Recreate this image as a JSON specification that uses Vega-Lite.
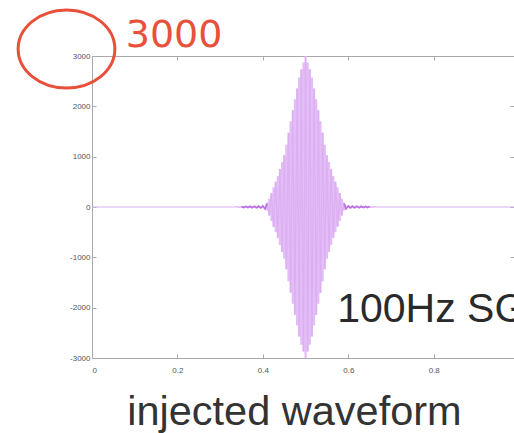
{
  "$schema": "https://vega.github.io/schema/vega-lite/v6.json",
  "width": 422,
  "height": 302,
  "autosize": "none",
  "padding": {"left": 92, "top": 56, "right": 0, "bottom": 75},
  "background": "white",
  "view": {"stroke": null},
  "config": {
    "axis": {
      "domainColor": "#a9a9a9",
      "tickColor": "#a9a9a9",
      "labelColor": "#555555",
      "labelFont": "Liberation Sans",
      "labelFontSize": 8,
      "grid": false,
      "tickSize": -4,
      "title": null
    }
  },
  "datasets": {
    "wave": [
      {"t": 0, "v": 0}, {"t": 0.335, "v": 0},
      {"t": 0.34, "v": 6}, {"t": 0.345, "v": -7}, {"t": 0.35, "v": 8}, {"t": 0.355, "v": -9},
      {"t": 0.36, "v": 10}, {"t": 0.365, "v": -11}, {"t": 0.37, "v": 12}, {"t": 0.375, "v": -13},
      {"t": 0.38, "v": 14}, {"t": 0.385, "v": -15}, {"t": 0.39, "v": 16}, {"t": 0.395, "v": -18},
      {"t": 0.4, "v": 20}, {"t": 0.405, "v": -35}, {"t": 0.41, "v": 70}, {"t": 0.415, "v": -170},
      {"t": 0.42, "v": 278}, {"t": 0.425, "v": -390}, {"t": 0.43, "v": 503}, {"t": 0.435, "v": -618},
      {"t": 0.44, "v": 755}, {"t": 0.445, "v": -892}, {"t": 0.45, "v": 1029}, {"t": 0.455, "v": -1236},
      {"t": 0.46, "v": 1475}, {"t": 0.465, "v": -1704}, {"t": 0.47, "v": 1921}, {"t": 0.475, "v": -2139},
      {"t": 0.48, "v": 2355}, {"t": 0.485, "v": -2571}, {"t": 0.49, "v": 2738}, {"t": 0.495, "v": -2869},
      {"t": 0.5, "v": 3000},
      {"t": 0.505, "v": -2869}, {"t": 0.51, "v": 2738}, {"t": 0.515, "v": -2571}, {"t": 0.52, "v": 2355},
      {"t": 0.525, "v": -2139}, {"t": 0.53, "v": 1921}, {"t": 0.535, "v": -1704}, {"t": 0.54, "v": 1475},
      {"t": 0.545, "v": -1236}, {"t": 0.55, "v": 1029}, {"t": 0.555, "v": -892}, {"t": 0.56, "v": 755},
      {"t": 0.565, "v": -618}, {"t": 0.57, "v": 503}, {"t": 0.575, "v": -390}, {"t": 0.58, "v": 278},
      {"t": 0.585, "v": -170}, {"t": 0.59, "v": 70}, {"t": 0.595, "v": -35}, {"t": 0.6, "v": 20},
      {"t": 0.605, "v": -18}, {"t": 0.61, "v": 16}, {"t": 0.615, "v": -15}, {"t": 0.62, "v": 14},
      {"t": 0.625, "v": -13}, {"t": 0.63, "v": 12}, {"t": 0.635, "v": -11}, {"t": 0.64, "v": 10},
      {"t": 0.645, "v": -9}, {"t": 0.65, "v": 8}, {"t": 0.655, "v": -7}, {"t": 0.66, "v": 6},
      {"t": 0.665, "v": 0}, {"t": 1, "v": 0}
    ],
    "envelope": [
      {"t": 0.405, "hi": 35, "lo": -35}, {"t": 0.41, "hi": 70, "lo": -70}, {"t": 0.415, "hi": 170, "lo": -170},
      {"t": 0.42, "hi": 278, "lo": -278}, {"t": 0.425, "hi": 390, "lo": -390}, {"t": 0.43, "hi": 503, "lo": -503},
      {"t": 0.435, "hi": 618, "lo": -618}, {"t": 0.44, "hi": 755, "lo": -755}, {"t": 0.445, "hi": 892, "lo": -892},
      {"t": 0.45, "hi": 1029, "lo": -1029}, {"t": 0.455, "hi": 1236, "lo": -1236}, {"t": 0.46, "hi": 1475, "lo": -1475},
      {"t": 0.465, "hi": 1704, "lo": -1704}, {"t": 0.47, "hi": 1921, "lo": -1921}, {"t": 0.475, "hi": 2139, "lo": -2139},
      {"t": 0.48, "hi": 2355, "lo": -2355}, {"t": 0.485, "hi": 2571, "lo": -2571}, {"t": 0.49, "hi": 2738, "lo": -2738},
      {"t": 0.495, "hi": 2869, "lo": -2869}, {"t": 0.5, "hi": 3000, "lo": -3000}, {"t": 0.505, "hi": 2869, "lo": -2869},
      {"t": 0.51, "hi": 2738, "lo": -2738}, {"t": 0.515, "hi": 2571, "lo": -2571}, {"t": 0.52, "hi": 2355, "lo": -2355},
      {"t": 0.525, "hi": 2139, "lo": -2139}, {"t": 0.53, "hi": 1921, "lo": -1921}, {"t": 0.535, "hi": 1704, "lo": -1704},
      {"t": 0.54, "hi": 1475, "lo": -1475}, {"t": 0.545, "hi": 1236, "lo": -1236}, {"t": 0.55, "hi": 1029, "lo": -1029},
      {"t": 0.555, "hi": 892, "lo": -892}, {"t": 0.56, "hi": 755, "lo": -755}, {"t": 0.565, "hi": 618, "lo": -618},
      {"t": 0.57, "hi": 503, "lo": -503}, {"t": 0.575, "hi": 390, "lo": -390}, {"t": 0.58, "hi": 278, "lo": -278},
      {"t": 0.585, "hi": 170, "lo": -170}, {"t": 0.59, "hi": 70, "lo": -70}, {"t": 0.595, "hi": 35, "lo": -35}
    ]
  },
  "resolve": {"axis": {"x": "independent", "y": "independent"}},
  "layer": [
    {
      "data": {"name": "envelope"},
      "mark": {"type": "area", "color": "#e3bdf5", "opacity": 1, "interpolate": "step", "clip": true},
      "encoding": {
        "x": {
          "field": "t", "type": "quantitative",
          "scale": {"domain": [0, 0.988], "nice": false, "zero": false},
          "axis": {"orient": "bottom", "values": [0, 0.2, 0.4, 0.6, 0.8], "format": ".1~f", "labelPadding": 12, "title": null}
        },
        "y": {
          "field": "hi", "type": "quantitative",
          "scale": {"domain": [-3000, 3000], "nice": false, "zero": false},
          "axis": {"orient": "left", "values": [-3000, -2000, -1000, 0, 1000, 2000, 3000], "labelExpr": "'' + datum.value", "labelPadding": 6, "title": null}
        },
        "y2": {"field": "lo"}
      }
    },
    {
      "data": {"name": "wave"},
      "mark": {"type": "line", "color": "#dcaff3", "strokeWidth": 1.2, "clip": true},
      "encoding": {
        "x": {"field": "t", "type": "quantitative", "scale": {"domain": [0, 0.988], "nice": false, "zero": false}, "axis": null},
        "y": {"field": "v", "type": "quantitative", "scale": {"domain": [-3000, 3000], "nice": false, "zero": false}, "axis": null}
      }
    },
    {
      "data": {"name": "wave"},
      "transform": [{"filter": "datum.t >= 0.35 && datum.t <= 0.41"}],
      "mark": {"type": "line", "color": "#bb72e4", "strokeWidth": 1.8, "clip": true},
      "encoding": {
        "x": {"field": "t", "type": "quantitative", "scale": {"domain": [0, 0.988], "nice": false, "zero": false}, "axis": null},
        "y": {"field": "v", "type": "quantitative", "scale": {"domain": [-3000, 3000], "nice": false, "zero": false}, "axis": null}
      }
    },
    {
      "data": {"name": "wave"},
      "transform": [{"filter": "datum.t >= 0.59 && datum.t <= 0.65"}],
      "mark": {"type": "line", "color": "#bb72e4", "strokeWidth": 1.8, "clip": true},
      "encoding": {
        "x": {"field": "t", "type": "quantitative", "scale": {"domain": [0, 0.988], "nice": false, "zero": false}, "axis": null},
        "y": {"field": "v", "type": "quantitative", "scale": {"domain": [-3000, 3000], "nice": false, "zero": false}, "axis": null}
      }
    },
    {
      "data": {"values": [{"t": -0.0597, "v": 3139}]},
      "mark": {
        "type": "point",
        "shape": "M -1.24 0 A 1.24 1 0 1 1 1.24 0 A 1.24 1 0 1 1 -1.24 0 Z",
        "size": 6084,
        "filled": false,
        "stroke": "#e9503a",
        "strokeWidth": 3,
        "opacity": 1,
        "clip": false
      },
      "encoding": {
        "x": {
          "field": "t", "type": "quantitative",
          "scale": {"domain": [0, 0.988], "nice": false, "zero": false},
          "axis": {"orient": "top", "values": [0, 0.2, 0.4, 0.6, 0.8], "labels": false, "domain": true, "title": null}
        },
        "y": {
          "field": "v", "type": "quantitative",
          "scale": {"domain": [-3000, 3000], "nice": false, "zero": false},
          "axis": {"orient": "right", "values": [-3000, -2000, -1000, 0, 1000, 2000, 3000], "labels": false, "domain": false, "title": null}
        }
      }
    },
    {
      "data": {"values": [{"t": 0.079, "v": 3179, "label": "3000"}]},
      "mark": {"type": "text", "align": "left", "baseline": "alphabetic", "font": "DejaVu Sans", "fontSize": 38, "color": "#e9503a", "clip": false},
      "encoding": {
        "x": {"field": "t", "type": "quantitative", "scale": {"domain": [0, 0.988], "nice": false, "zero": false}, "axis": null},
        "y": {"field": "v", "type": "quantitative", "scale": {"domain": [-3000, 3000], "nice": false, "zero": false}, "axis": null},
        "text": {"field": "label"}
      }
    },
    {
      "data": {"values": [{"t": 0.574, "v": -2285, "label": "100Hz SG"}]},
      "mark": {"type": "text", "align": "left", "baseline": "alphabetic", "font": "Liberation Sans", "fontSize": 41, "color": "#2a2a2a", "clip": false},
      "encoding": {
        "x": {"field": "t", "type": "quantitative", "scale": {"domain": [0, 0.988], "nice": false, "zero": false}, "axis": null},
        "y": {"field": "v", "type": "quantitative", "scale": {"domain": [-3000, 3000], "nice": false, "zero": false}, "axis": null},
        "text": {"field": "label"}
      }
    },
    {
      "data": {"values": [{"t": 0.474, "v": -4331, "label": "injected waveform"}]},
      "mark": {"type": "text", "align": "center", "baseline": "alphabetic", "font": "Liberation Sans", "fontSize": 41.5, "color": "#333333", "clip": false},
      "encoding": {
        "x": {"field": "t", "type": "quantitative", "scale": {"domain": [0, 0.988], "nice": false, "zero": false}, "axis": null},
        "y": {"field": "v", "type": "quantitative", "scale": {"domain": [-3000, 3000], "nice": false, "zero": false}, "axis": null},
        "text": {"field": "label"}
      }
    }
  ]
}
